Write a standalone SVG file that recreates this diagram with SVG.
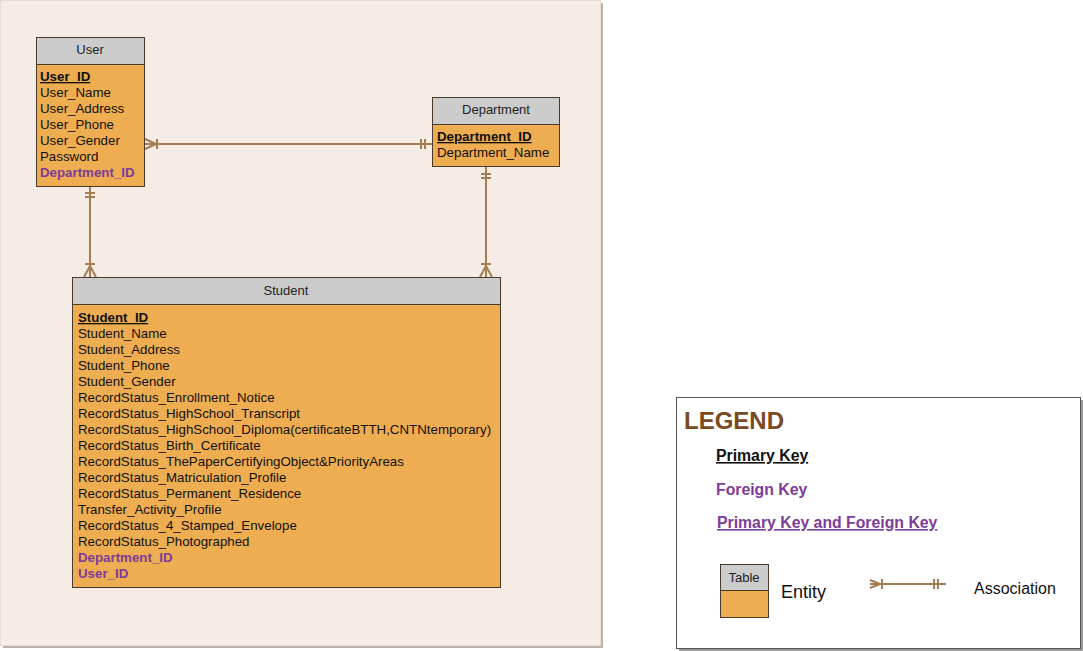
<svg xmlns="http://www.w3.org/2000/svg" width="1083" height="651" viewBox="0 0 1083 651">
<style>
text{font-family:"Liberation Sans",Arial,sans-serif;}
.hd{fill:#cccccc;stroke:#4a3a2a;stroke-width:1}
.bd{fill:#eead50;stroke:#4a3a2a;stroke-width:1}
.ht{font-size:13px;fill:#222;text-anchor:middle}
.r{font-size:13.3px;fill:#111}
.pk{font-size:13.3px;font-weight:bold;fill:#111;text-decoration:underline}
.fk{font-size:13.3px;font-weight:bold;fill:#7d3c98}
.c{stroke:#a67c52;stroke-width:2;fill:none}
</style>
<rect x="3" y="3" width="600" height="645" fill="#bdb2aa"/>
<rect x="0.5" y="0.5" width="600" height="645" fill="#f5ece5" stroke="#eadbd0"/>
<rect x="679" y="400" width="404" height="251" fill="#9a9a9a"/>
<rect x="676.5" y="397.5" width="404" height="251" fill="#ffffff" stroke="#555555"/>

<g id="connectors">
  <path class="c" d="M145 144 H432"/>
  <path class="c" d="M145 139 L156 144 L145 149 M157 139 V149"/>
  <path class="c" d="M421 139 V149 M425 139 V149"/>
  <path class="c" d="M90 187 V277"/>
  <path class="c" d="M85 193 H95 M85 197 H95"/>
  <path class="c" d="M85 264 H95 M84 277 L90 266 L96 277"/>
  <path class="c" d="M486 167 V277"/>
  <path class="c" d="M481 174 H491 M481 178 H491"/>
  <path class="c" d="M481 264 H491 M480 277 L486 266 L492 277"/>
</g>

<g id="user">
  <rect class="hd" x="36.5" y="37.5" width="108" height="27"/>
  <rect class="bd" x="36.5" y="64.5" width="108" height="122"/>
  <text class="ht" x="90" y="54">User</text>
  <text class="pk" x="40" y="81">User_ID</text>
  <text class="r" x="40" y="97">User_Name</text>
  <text class="r" x="40" y="113">User_Address</text>
  <text class="r" x="40" y="129">User_Phone</text>
  <text class="r" x="40" y="145">User_Gender</text>
  <text class="r" x="40" y="161">Password</text>
  <text class="fk" x="40" y="177">Department_ID</text>
</g>

<g id="department">
  <rect class="hd" x="432.5" y="97.5" width="127" height="27"/>
  <rect class="bd" x="432.5" y="124.5" width="127" height="42"/>
  <text class="ht" x="496" y="114">Department</text>
  <text class="pk" x="437" y="141">Department_ID</text>
  <text class="r" x="437" y="157">Department_Name</text>
</g>

<g id="student">
  <rect class="hd" x="72.5" y="277.5" width="428" height="27"/>
  <rect class="bd" x="72.5" y="304.5" width="428" height="283"/>
  <text class="ht" x="286" y="295">Student</text>
  <text class="pk" x="78" y="322">Student_ID</text>
  <text class="r" x="78" y="338">Student_Name</text>
  <text class="r" x="78" y="354">Student_Address</text>
  <text class="r" x="78" y="370">Student_Phone</text>
  <text class="r" x="78" y="386">Student_Gender</text>
  <text class="r" x="78" y="402">RecordStatus_Enrollment_Notice</text>
  <text class="r" x="78" y="418">RecordStatus_HighSchool_Transcript</text>
  <text class="r" x="78" y="434">RecordStatus_HighSchool_Diploma(certificateBTTH,CNTNtemporary)</text>
  <text class="r" x="78" y="450">RecordStatus_Birth_Certificate</text>
  <text class="r" x="78" y="466">RecordStatus_ThePaperCertifyingObject&amp;PriorityAreas</text>
  <text class="r" x="78" y="482">RecordStatus_Matriculation_Profile</text>
  <text class="r" x="78" y="498">RecordStatus_Permanent_Residence</text>
  <text class="r" x="78" y="514">Transfer_Activity_Profile</text>
  <text class="r" x="78" y="530">RecordStatus_4_Stamped_Envelope</text>
  <text class="r" x="78" y="546">RecordStatus_Photographed</text>
  <text class="fk" x="78" y="562">Department_ID</text>
  <text class="fk" x="78" y="578">User_ID</text>
</g>

<g id="legend">
  <text x="684" y="429" font-size="24" font-weight="bold" fill="#7a4a22">LEGEND</text>
  <text x="716" y="461" font-size="15.8" font-weight="bold" fill="#111" text-decoration="underline">Primary Key</text>
  <text x="716" y="495" font-size="15.8" font-weight="bold" fill="#7d3c98">Foreign Key</text>
  <text x="717" y="528" font-size="15.8" font-weight="bold" fill="#7d3c98" text-decoration="underline">Primary Key and Foreign Key</text>
  <rect class="hd" x="720.5" y="564.5" width="48" height="26"/>
  <rect class="bd" x="720.5" y="590.5" width="48" height="27"/>
  <text x="744" y="582" font-size="13" fill="#222" text-anchor="middle">Table</text>
  <text x="781" y="598" font-size="18" fill="#111">Entity</text>
  <path class="c" d="M870 584 H946"/>
  <path class="c" d="M870 580 L880 584 L870 588 M882 579 V589"/>
  <path class="c" d="M934 579 V589 M938 579 V589"/>
  <text x="974" y="594" font-size="16" fill="#111">Association</text>
</g>
</svg>
